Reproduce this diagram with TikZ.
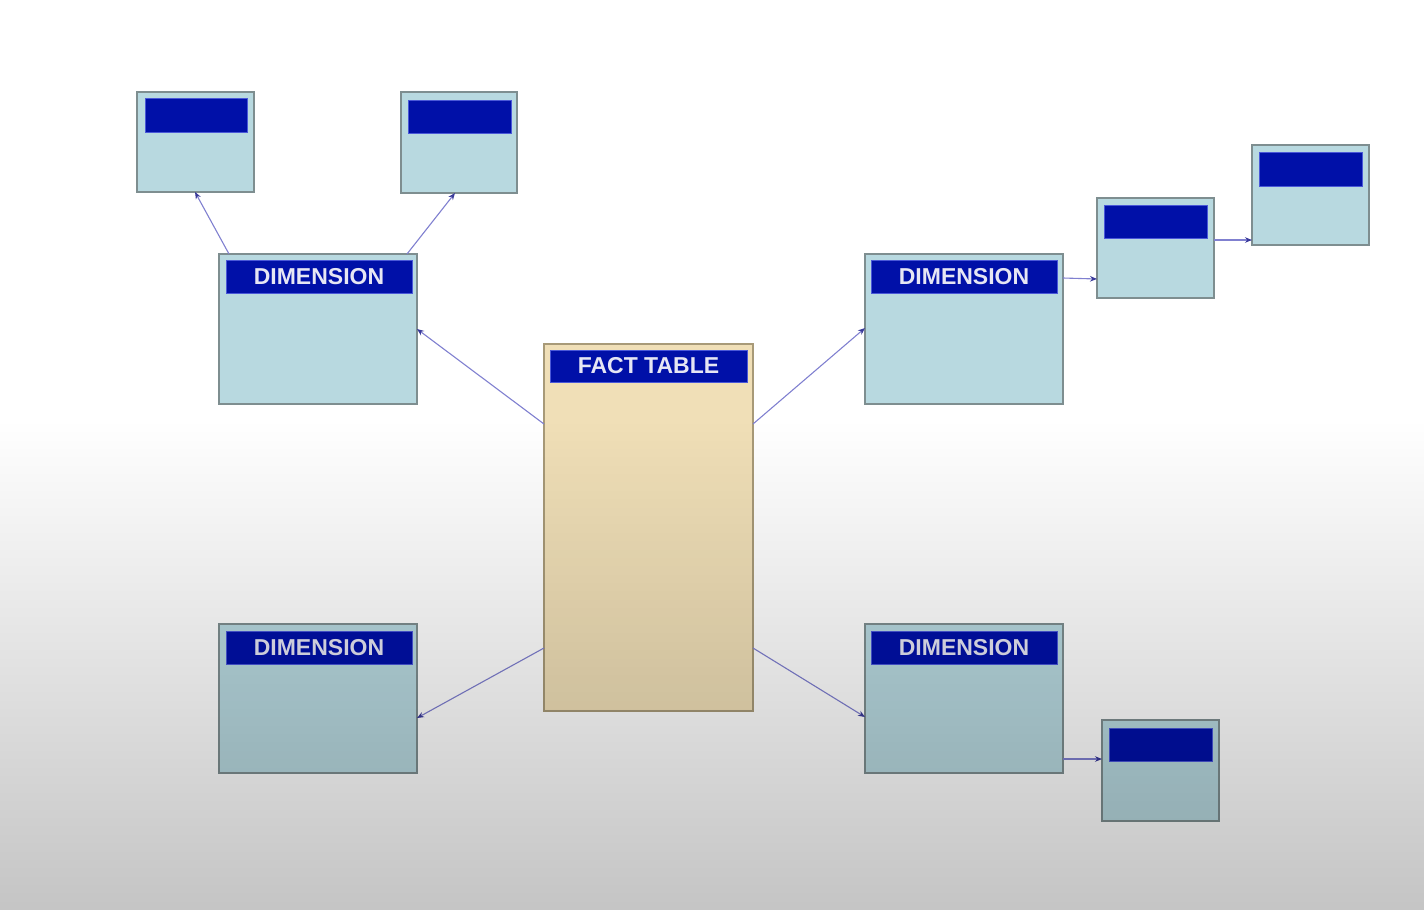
\documentclass[tikz,border=0pt]{standalone}
\usepackage{fontspec}
\setmainfont{Liberation Sans}
\usetikzlibrary{arrows.meta,calc,fadings}
\definecolor{boxfill}{HTML}{B8D9E0}
\definecolor{boxborder}{HTML}{7E8E90}
\definecolor{factfill}{HTML}{F0DFB7}
\definecolor{factborder}{HTML}{A89A78}
\definecolor{hdrblue}{HTML}{0010A8}
\definecolor{hdredge}{HTML}{4A58D8}
\definecolor{hdrtext}{HTML}{E6E6F4}
\definecolor{linkcol}{HTML}{8080D0}
\definecolor{tipcol}{HTML}{3A3A9A}
\tikzfading[name=darken, top color=transparent!100, bottom color=transparent!77]
\tikzset{
  tbl/.style={draw=boxborder, line width=1.6pt, fill=boxfill, anchor=north west, inner sep=0pt, outer sep=0pt},
  facttbl/.style={tbl, draw=factborder, fill=factfill},
  hdr/.style={fill=hdrblue, draw=hdredge, line width=0.8pt, anchor=north west, inner sep=0pt, outer sep=0pt,
    text=hdrtext, font=\fontsize{23}{26}\selectfont\bfseries},
  link/.style={draw=linkcol, line width=1.1pt, -{Stealth[length=7pt,width=5.5pt,color=tipcol]}}
}
\begin{document}
\begin{tikzpicture}[x=1pt,y=-1pt]
\useasboundingbox (0,0) rectangle (1424,910);
\fill[white] (0,0) rectangle (1424,910);
% small tables
\node[tbl, minimum width=117pt, minimum height=100pt] (ta) at (137,92) {};
\node[hdr, minimum width=102pt, minimum height=34pt] (tah) at (145,98) {};
\node[tbl, minimum width=116pt, minimum height=101pt] (tb) at (401,92) {};
\node[hdr, minimum width=103pt, minimum height=33pt] (tbh) at (408,100) {};
\node[tbl, minimum width=117pt, minimum height=100pt] (tc) at (1097,198) {};
\node[hdr, minimum width=103pt, minimum height=33pt] (tch) at (1104,205) {};
\node[tbl, minimum width=117pt, minimum height=100pt] (td) at (1252,145) {};
\node[hdr, minimum width=103pt, minimum height=34pt] (tdh) at (1259,152) {};
\node[tbl, minimum width=117pt, minimum height=101pt] (te) at (1102,720) {};
\node[hdr, minimum width=103pt, minimum height=33pt] (teh) at (1109,728) {};
% dimensions
\node[tbl, minimum width=198pt, minimum height=150pt] (dtl) at (219,254) {};
\node[hdr, minimum width=186pt, minimum height=33pt] (dtlh) at (226,260) {DIMENSION};
\node[tbl, minimum width=198pt, minimum height=150pt] (dtr) at (865,254) {};
\node[hdr, minimum width=186pt, minimum height=33pt] (dtrh) at (871,260) {DIMENSION};
\node[tbl, minimum width=198pt, minimum height=149pt] (dbl) at (219,624) {};
\node[hdr, minimum width=186pt, minimum height=33pt] (dblh) at (226,631) {DIMENSION};
\node[tbl, minimum width=198pt, minimum height=149pt] (dbr) at (865,624) {};
\node[hdr, minimum width=186pt, minimum height=33pt] (dbrh) at (871,631) {DIMENSION};
% fact table
\node[facttbl, minimum width=209pt, minimum height=367pt] (ft) at (544,344) {};
\node[hdr, minimum width=197pt, minimum height=32pt] (fth) at (550,350) {FACT TABLE};
% connectors
\coordinate (ftl1) at ($(ft.north west)+(0,80)$);
\coordinate (ftr1) at ($(ft.north east)+(0,80)$);
\coordinate (ftl2) at ($(ft.north west)+(0,304)$);
\coordinate (ftr2) at ($(ft.north east)+(0,304)$);
\draw[link] ($(dtl.north west)+(10,0)$) -- ($(ta.south west)+(58,0)$);
\draw[link] ($(dtl.north west)+(188,0)$) -- ($(tb.south west)+(54,0)$);
\draw[link] (ftl1) -- ($(dtl.north east)+(0,75)$);
\draw[link] (ftr1) -- ($(dtr.north west)+(0,74)$);
\draw[link] ($(dtr.north east)+(0,24)$) -- ($(tc.north west)+(0,81)$);
\draw[link] ($(tc.north east)+(0,42)$) -- ($(td.north west)+(0,95)$);
\draw[link] (ftl2) -- ($(dbl.north east)+(0,94)$);
\draw[link] (ftr2) -- ($(dbr.north west)+(0,93)$);
\draw[link] ($(dbr.north east)+(0,135)$) -- ($(te.north west)+(0,39)$);
% background shading overlay
\fill[black, path fading=darken] (0,420) rectangle (1424,910);
\end{tikzpicture}
\end{document}
